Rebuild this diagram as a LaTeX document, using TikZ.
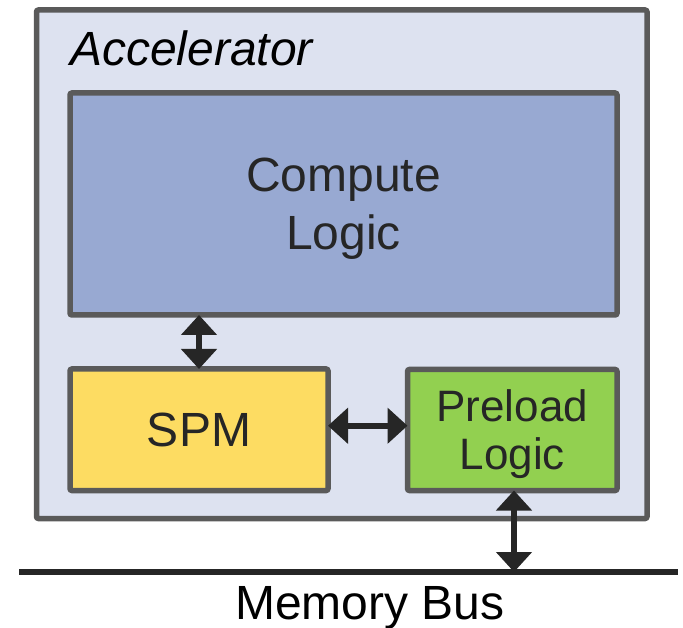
\documentclass[tikz,border=0pt]{standalone}
\usepackage{fontspec}
\setmainfont{Liberation Sans}
\usetikzlibrary{arrows.meta}

\definecolor{frame}{HTML}{5A5A5A}
\definecolor{ink}{HTML}{262626}
\definecolor{accfill}{HTML}{DDE2F0}
\definecolor{compfill}{HTML}{98A9D2}
\definecolor{spmfill}{HTML}{FDDC62}
\definecolor{prefill}{HTML}{92D050}

\tikzset{
  unitbox/.style={draw=frame, line width=5.5pt, rounded corners=2pt,
    inner sep=0pt, outer sep=0pt, text=ink, align=center},
  bigtext/.style={font=\fontsize{48}{58}\selectfont},
  midtext/.style={font=\fontsize{44}{48}\selectfont},
  biarrow/.style={draw=ink, line width=6pt,
    {Triangle[width=35pt,length=20pt]}-{Triangle[width=35pt,length=20pt]}},
}

\begin{document}
\begin{tikzpicture}[x=1pt, y=-1pt]
  \useasboundingbox (0,0) rectangle (683,628);

  % accelerator enclosure
  \node[unitbox, fill=accfill, minimum width=610.5pt, minimum height=508.5pt]
    (acc) at (341.75,264.25) {};
  \node[anchor=base west, inner sep=0pt, font=\fontsize{48}{58}\selectfont\itshape]
    (acclabel) at (70,66) {Accelerator};

  % functional units
  \node[unitbox, bigtext, fill=compfill, minimum width=547pt, minimum height=222pt,
    text depth=0pt] (compute) at (343.5,204) {Compute\\Logic};
  \node[unitbox, bigtext, fill=spmfill, minimum width=258pt, minimum height=121.5pt]
    (spm) at (199,429.75) {SPM};
  \node[unitbox, midtext, fill=prefill, minimum width=209.5pt, minimum height=121pt,
    text depth=0pt] (preload) at (512.25,430) {Preload\\Logic};

  % memory bus
  \coordinate (busL) at (19,572);
  \coordinate (busR) at (678,572);
  \draw[ink, line width=6pt] (busL) -- (busR);
  \node[anchor=base, inner sep=0pt, bigtext] (buslabel) at (370,619) {Memory Bus};

  % data paths
  \draw[biarrow] (spm.north) -- (spm.north |- compute.south);
  \draw[biarrow] ([yshift=4pt]spm.east) -- ([yshift=4pt]spm.east -| preload.west);
  \draw[biarrow] ([xshift=1.75pt]preload.south) -- ([xshift=1.75pt]preload.south |- busL);
\end{tikzpicture}
\end{document}
